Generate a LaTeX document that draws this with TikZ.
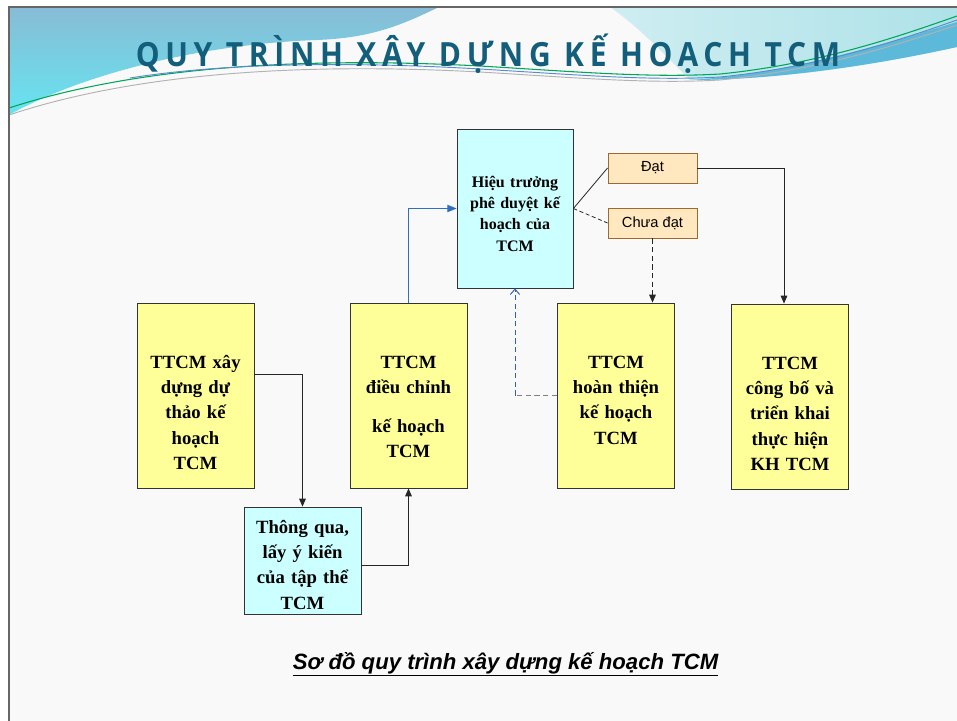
\documentclass[tikz,border=0pt]{standalone}
\usepackage{fontspec}
\setmainfont{Liberation Serif}
\setsansfont{Liberation Sans}
\newfontfamily\titlefont[FakeStretch=0.9, LetterSpace=17]{Open Sans}
\usetikzlibrary{arrows.meta,positioning}

\definecolor{slidebg}{HTML}{F9F9F9}
\definecolor{bandtop}{HTML}{88BCD5}
\definecolor{bandlow}{HTML}{66E4F1}
\definecolor{bandlight}{HTML}{AEE2E8}
\definecolor{bandmid}{HTML}{5DB9D9}
\definecolor{titleteal}{HTML}{135E7A}
\definecolor{stepyellow}{HTML}{FFFF99}
\definecolor{stepcyan}{HTML}{CCFFFF}
\definecolor{verdictfill}{HTML}{FFE8BF}
\definecolor{verdictline}{HTML}{9C6A30}
\definecolor{flowblue}{HTML}{2F6FC2}
\definecolor{backblue}{HTML}{2F63A6}

\begin{document}
\begin{tikzpicture}[x=0.75pt, y=-0.75pt, node distance=41.25pt]
	\tikzset{stepbox/.style={draw=black!80, line width=0.6pt, fill=stepyellow, inner xsep=2pt, inner ysep=0pt,
		text width=83.75pt, align=center, font=\fontsize{14}{19}\selectfont\bfseries,
		text height=48.75pt, text depth=90pt}}
	\tikzset{votebox/.append style={stepbox, fill=stepcyan, text height=19.5pt, text depth=60.75pt}}
	\tikzset{headbox/.append style={stepbox, fill=stepcyan, text width=83pt, font=\fontsize{12}{16.1}\selectfont\bfseries,
		text height=43.5pt, text depth=75.75pt}}
	\tikzset{verdict/.style={draw=verdictline, line width=0.7pt, fill=verdictfill, inner sep=0pt,
		minimum width=66.75pt, minimum height=22.5pt, font=\sffamily\fontsize{11}{13}\selectfont}}
	\tikzset{flow/.style={draw=black!85, line width=0.75pt, -{Triangle[length=6pt, width=5pt]}}}
	\tikzset{upflow/.style={draw=flowblue, line width=0.75pt, -{Triangle[length=7pt, width=5.5pt]}}}
	\tikzset{backflow/.style={draw=backblue, line width=0.75pt, dash pattern=on 4pt off 2.5pt, -{Straight Barb[length=4pt, width=7pt]}}}
	\tikzset{link/.style={draw=black!85, line width=0.6pt}}
	\tikzset{hv/.style={to path={-| (\tikztotarget)}}, vh/.style={to path={|- (\tikztotarget)}}}

	\useasboundingbox (0,0) rectangle (957,721);

	% slide background and header swoosh
	\fill[slidebg] (9,7) rectangle (957,721);
	\shade[top color=bandtop, bottom color=bandlow] (9,7) -- (439,7)
		.. controls (400,26) and (370,38) .. (317,40)
		.. controls (200,44) and (80,75) .. (9,115) -- cycle;
	\shade[left color=bandlight!60!white, right color=bandlight] (610,7) -- (957,7) -- (957,47)
		.. controls (880,64) and (780,80) .. (690,80)
		.. controls (665,55) and (640,28) .. (610,7) -- cycle;
	\fill[bandmid] (690,80) .. controls (790,74) and (890,42) .. (957,22) -- (957,47)
		.. controls (880,64) and (780,80) .. (690,80) -- cycle;
	\draw[teal!70!green, line width=0.8pt] (9,108) .. controls (150,62) and (330,58) .. (480,66)
		.. controls (580,72) and (650,78) .. (720,74) .. controls (820,64) and (900,36) .. (957,16);
	\draw[flowblue!80, line width=0.7pt] (130,78) .. controls (230,62) and (360,62) .. (480,69)
		.. controls (580,75) and (650,81) .. (720,77) .. controls (820,67) and (900,40) .. (957,20);
	\draw[gray!60, line width=0.7pt] (9,115) .. controls (150,68) and (330,64) .. (480,72)
		.. controls (580,78) and (650,84) .. (720,80) .. controls (820,70) and (900,44) .. (957,25);
	\draw[black!60, line width=0.8pt] (9,721) -- (9,7) -- (957,7);

	% title and caption
	\node[anchor=base, text=titleteal, font=\titlefont\bfseries\fontsize{25}{28}\selectfont] (title) at (488,66)
		{QUY TRÌNH XÂY DỰNG KẾ HOẠCH TCM};
	\node[anchor=base, font=\sffamily\bfseries\itshape\fontsize{16.6}{20}\selectfont] (caption) at (505.5,669)
		{\underline{Sơ đồ quy trình xây dựng kế hoạch TCM}};

	% steps
	\node[stepbox]	(draft)		at (195.5,395.5)	{TTCM xây\\ dựng dự\\ thảo kế\\ hoạch\\ TCM};
	\node[votebox]	(vote)		at (302.5,560.5)	{Thông qua,\\ lấy ý kiến\\ của tập thể\\ TCM};
	\node[stepbox]	(adjust)	at (408.5,395.5)	{TTCM\\ điều chỉnh\\[10pt] kế hoạch\\ TCM};
	\node[headbox]	(approve)	at (515,208.5)		{Hiệu trưởng\\ phê duyệt kế\\ hoạch của\\ TCM};
	\node[verdict]	(pass)		at (652.5,168)		{Đạt};
	\node[verdict]	(fail)		[below of=pass]		{Chưa đạt};
	\node[stepbox]	(finish)	at (616,395.5)		{TTCM\\ hoàn thiện\\ kế hoạch\\ TCM};
	\node[stepbox]	(publish)	at (790,396.5)		{TTCM\\ công bố và\\ triển khai\\ thực hiện\\ KH TCM};
	\coordinate		(turn)		at (approve.south |- finish.west);

	\path
		([yshift=15.4pt]draft.east)	edge[flow, hv]		(vote.north)
		([yshift=-3.4pt]vote.east)	edge[flow, hv]		(adjust.south)
		(adjust.north)				edge[upflow, vh]	(approve.west)
		(approve.east)				edge[link]			(pass.west)
		(approve.east)				edge[link, dash pattern=on 3pt off 2pt]	(fail.west)
		(pass.east)					edge[flow, hv]		([xshift=-4.5pt]publish.north)
		(fail.south)				edge[flow, dash pattern=on 4pt off 2.5pt]	(fail.south |- finish.north)
		(finish.west)				edge[draw=gray, line width=0.75pt, dash pattern=on 4pt off 2.5pt]	(turn)
		(turn)						edge[backflow]		(approve.south)
		;
\end{tikzpicture}
\end{document}
